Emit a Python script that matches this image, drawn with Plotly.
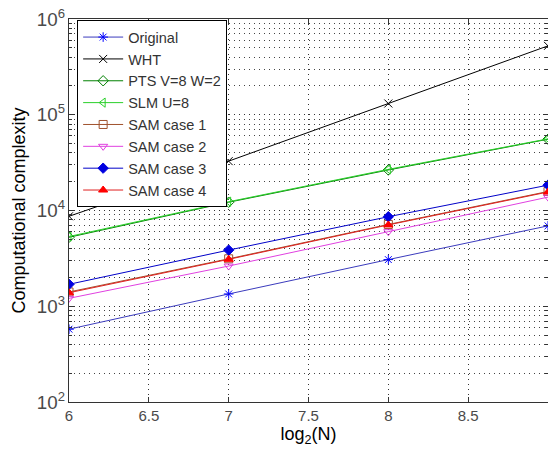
import plotly.graph_objects as go

x_log2N = [6, 7, 8, 9]
original = [576, 1344, 3072, 6912]
wht = [8700, 32768, 131072, 524288]
pts = [5250, 12200, 26500, 55500]
slm = [5350, 12350, 26900, 56000]
sam1 = [1410, 3130, 7150, 15800]
sam2 = [1210, 2630, 6010, 13800]
sam3 = [1695, 3860, 8610, 18400]
sam4 = [1384, 3090, 7070, 15600]

series = [
    ("Original", original, "#3b3bbd", "blue", "asterisk-open"),
    ("WHT", wht, "black", "black", "x-thin-open"),
    ("PTS V=8 W=2", pts, "#008000", "#008000", "diamond-open"),
    ("SLM U=8", slm, "#2bd02b", "#2bd02b", "triangle-left-open"),
    ("SAM case 1", sam1, "#a0522d", "#a0522d", "square-open"),
    ("SAM case 2", sam2, "#e040e0", "#e040e0", "triangle-down-open"),
    ("SAM case 3", sam3, "#0000c8", "#0000e0", "diamond"),
    ("SAM case 4", sam4, "#e02020", "red", "triangle-up"),
]

fig = go.Figure()
for name, ys, lc, mc, sym in series:
    fig.add_trace(go.Scatter(
        x=x_log2N, y=ys, name=name, mode="lines+markers",
        line=dict(color=lc, width=1),
        marker=dict(symbol=sym, size=8, color=mc, line=dict(color=mc, width=1)),
    ))

axis_font = dict(family="Liberation Sans, Arial, sans-serif", size=15, color="#4a4a4a")
grid_dash = "1px,4px"

fig.update_layout(
    width=548, height=455,
    margin=dict(l=69, r=0, t=19, b=53),
    paper_bgcolor="white", plot_bgcolor="white",
    font=dict(family="Liberation Sans, Arial, sans-serif", size=15, color="black"),
    showlegend=True,
    legend=dict(
        x=0.017, y=0.997, xanchor="left", yanchor="top",
        bgcolor="white", bordercolor="black", borderwidth=1,
        font=dict(size=14.5, color="#333"),
        tracegroupgap=0, itemwidth=40,
    ),
    xaxis=dict(
        range=[6, 9], dtick=0.5, tick0=6,
        showline=True, linecolor="#333", linewidth=1, mirror="ticks",
        ticks="inside", ticklen=5, tickcolor="#333",
        showgrid=True, gridcolor="#333", griddash=grid_dash, gridwidth=1,
        zeroline=False,
        tickfont=axis_font,
        title=dict(text="log<sub>2</sub>(N)", font=dict(size=18, color="black"), standoff=4),
    ),
    yaxis=dict(
        type="log", range=[2, 6], dtick=1,
        exponentformat="power", showexponent="all",
        showline=True, linecolor="#333", linewidth=1, mirror="ticks",
        ticks="inside", ticklen=5, tickcolor="#333",
        showgrid=True, gridcolor="#333", griddash=grid_dash, gridwidth=1,
        minor=dict(dtick="D1", showgrid=True, gridcolor="#444", griddash=grid_dash,
                   gridwidth=1, ticks="inside", ticklen=3, tickcolor="#333"),
        zeroline=False,
        tickfont=axis_font,
        title=dict(text="Computational complexity", font=dict(size=18, color="black"), standoff=6),
    ),
)

fig.write_html("out.html")
